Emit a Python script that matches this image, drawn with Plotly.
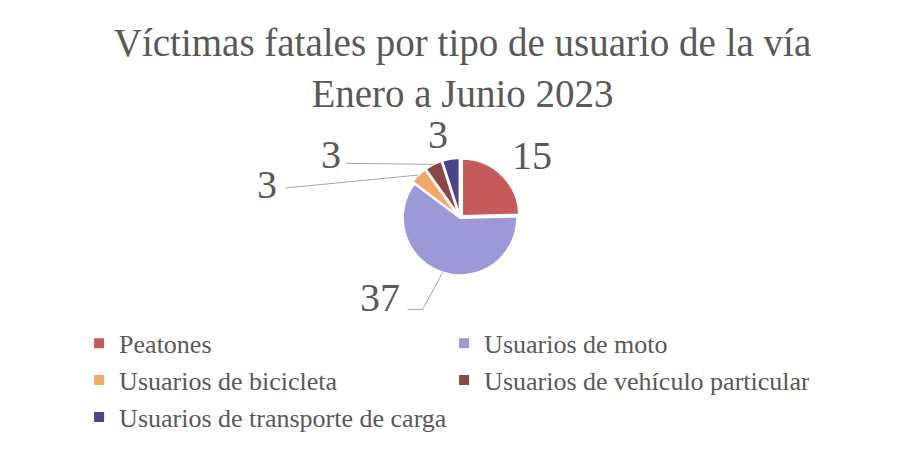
import math
import plotly.graph_objects as go

categories = ["Peatones", "Usuarios de moto", "Usuarios de bicicleta",
              "Usuarios de vehículo particular", "Usuarios de transporte de carga"]
values = [15, 37, 3, 3, 3]
colors = ["#C65B5B", "#9B99D8", "#F2AA6A", "#8C4646", "#4A4588"]

title_text = "Víctimas fatales por tipo de usuario de la vía<br>Enero a Junio 2023"
FONT = "Liberation Serif"
GRAY = "#595959"
W, H = 900, 460

pull = [0.05, 0.0, 0.05, 0.05, 0.05]
dom_x = [0.4356, 0.5689]
dom_y = [0.4131, 0.6739]

# label layout (pixel offsets from slice-edge point): line path points and text position
label_line = [None, [(-20, 37), (-35, 37)], [(-133, 13)], [(-87, -1)], None]
label_pos = [(30, -20), (-63, 25), (-151, 9), (-102, -10), (-13, -24)]

fig = go.Figure(go.Pie(
    labels=categories, values=values, sort=False, direction="clockwise",
    rotation=0, marker=dict(colors=colors, line=dict(color="white", width=2)),
    pull=pull, textinfo="none", hoverinfo="label+value",
    domain=dict(x=dom_x, y=dom_y),
))

# geometry of the pie in pixels
cx = (dom_x[0] + dom_x[1]) / 2 * W
cy = (1 - (dom_y[0] + dom_y[1]) / 2) * H
r = min((dom_x[1] - dom_x[0]) * W, (dom_y[1] - dom_y[0]) * H) / 2 / (1 + max(pull))

total = sum(values)
cum = 0
shapes, annotations = [], []
for i, v in enumerate(values):
    mid = (cum + v / 2) / total * 2 * math.pi
    cum += v
    rr = r * (1 + pull[i])
    ex = cx + rr * math.sin(mid)
    ey = cy - rr * math.cos(mid)
    if label_line[i]:
        pts = [(ex, ey)] + [(ex + dx, ey + dy) for dx, dy in label_line[i]]
        path = "M " + " L ".join(f"{px / W:.5f},{1 - py / H:.5f}" for px, py in pts)
        shapes.append(dict(type="path", path=path, xref="paper", yref="paper",
                           line=dict(color="#A6A6A6", width=1)))
    lx, ly = ex + label_pos[i][0], ey + label_pos[i][1]
    annotations.append(dict(text=str(v), x=lx / W, y=1 - ly / H, xref="paper", yref="paper",
                            showarrow=False, xanchor="center", yanchor="middle",
                            font=dict(family=FONT, size=40, color=GRAY)))

fig.update_layout(
    width=W, height=H,
    margin=dict(l=0, r=0, t=0, b=0),
    paper_bgcolor="white", plot_bgcolor="white",
    title=dict(text=title_text, x=0.505, xanchor="center", y=0.896, yanchor="middle",
               font=dict(family=FONT, size=39, color=GRAY)),
    legend=dict(orientation="h", x=0.079, y=0.322, xanchor="left", yanchor="top",
                entrywidth=320, entrywidthmode="pixels",
                font=dict(family=FONT, size=26, color=GRAY), traceorder="normal"),
    shapes=shapes, annotations=annotations,
)

fig.write_html("out.html")
